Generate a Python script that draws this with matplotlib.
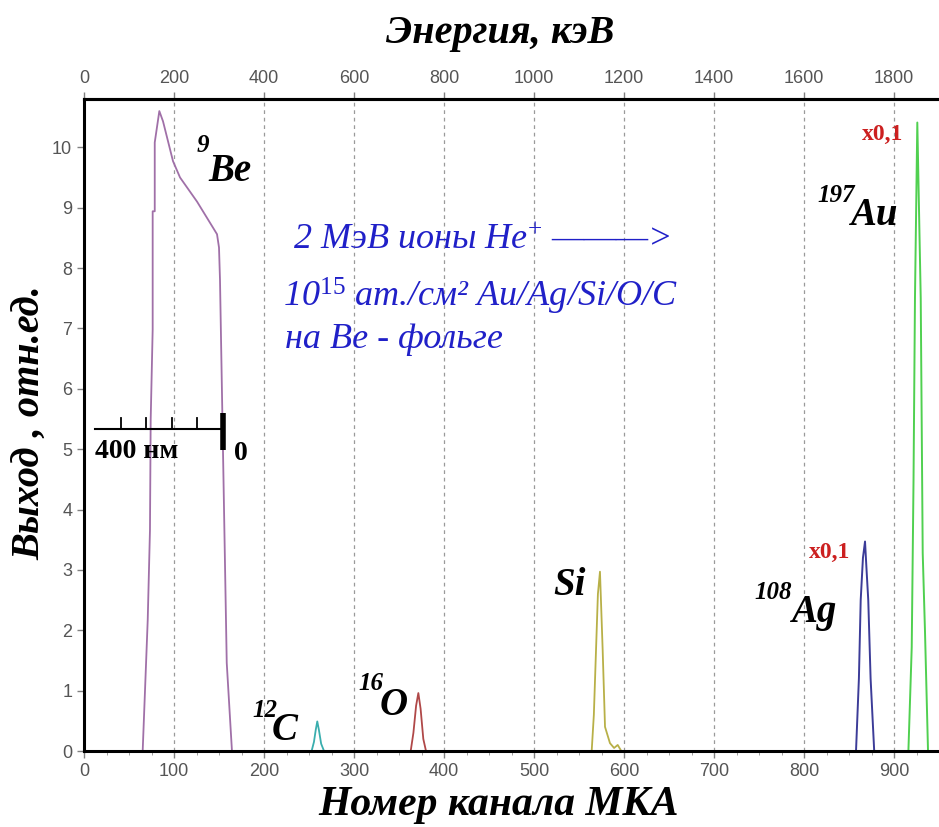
import matplotlib
matplotlib.use("Agg")
import matplotlib.pyplot as plt
from matplotlib.ticker import MultipleLocator

# RBS spectrum, 2 MeV He+ on Au/Ag/Si/O/C over Be foil
plt.rcParams['mathtext.fontset'] = 'custom'
plt.rcParams['mathtext.rm'] = 'Liberation Serif'
plt.rcParams['mathtext.it'] = 'Liberation Serif:italic'
plt.rcParams['mathtext.bf'] = 'Liberation Serif:bold:italic'

# channel / yield for each peak
be_ch = [65.2, 70.8, 73.3, 74.1, 76.3, 76.3, 78.6, 78.6, 83.7, 87.8, 98.9, 106.7,
         125.6, 143.3, 147.8, 150.0, 151.1, 154.4, 158.6, 164.4]
be_y = [0, 2.17, 3.66, 5.49, 6.98, 8.94, 8.94, 10.08, 10.6, 10.43, 9.77, 9.5,
        9.1, 8.67, 8.56, 8.34, 7.81, 5.0, 1.46, 0]
c_ch = [252.9, 255.5, 257.5, 259.2, 261.0, 263.5, 266.7]
c_y = [0, 0.15, 0.35, 0.49, 0.35, 0.12, 0]
o_ch = [363, 366, 369, 371.5, 374, 377, 380]
o_y = [0, 0.3, 0.75, 0.96, 0.7, 0.2, 0]
si_ch = [564.1, 566.5, 568.9, 571.0, 573.3, 576.3, 578.9, 584.4, 589, 593, 597]
si_y = [0, 0.6, 1.67, 2.6, 2.97, 1.67, 0.4, 0.13, 0.05, 0.1, 0]
ag_ch = [857.8, 861, 863, 865.5, 867.8, 869.5, 871.4, 874, 878]
ag_y = [0, 1.2, 2.5, 3.2, 3.47, 3.0, 2.5, 1.2, 0]
au_ch = [916, 919.7, 921.7, 923.3, 925.9, 929.7, 931.9, 934.4, 937.8]
au_y = [0, 1.72, 4.5, 7.5, 10.41, 7.5, 3.28, 2.0, 0]

ch_ticks = list(range(0, 1000, 100))
kev_ticks = list(range(0, 2000, 200))
y_ticks = list(range(0, 11))

fig = plt.figure(figsize=(9.39, 8.27), dpi=100)
ax = fig.add_axes([84/939, 76/827, 855/939, 652/827])
ax.set_xlim(0, 950)
ax.set_ylim(0, 10.8)

for g in ch_ticks[1:]:
    ax.axvline(g, color='#9a9a9a', lw=0.9, ls=(0, (3, 3)), zorder=0)

ax.plot(be_ch, be_y, color='#a070a8', lw=1.3)
ax.plot(c_ch, c_y, color='#3aaeae', lw=1.3)
ax.plot(o_ch, o_y, color='#b04848', lw=1.3)
ax.plot(si_ch, si_y, color='#b8b048', lw=1.3)
ax.plot(ag_ch, ag_y, color='#3c3c98', lw=1.4)
ax.plot(au_ch, au_y, color='#50d050', lw=1.4)

# ticks
ax.set_xticks(ch_ticks)
ax.xaxis.set_minor_locator(MultipleLocator(25))
ax.set_yticks(y_ticks)
ax.tick_params(axis='both', which='major', direction='out', length=5, width=1,
               color='#808080', labelcolor='#555555', labelsize=13)
ax.tick_params(axis='x', which='minor', direction='out', length=3, color='#909090')
for lab in ax.get_xticklabels() + ax.get_yticklabels():
    lab.set_family('Liberation Sans')
for s in ['left', 'bottom', 'top']:
    ax.spines[s].set_linewidth(2.2)
ax.spines['right'].set_visible(False)

top = ax.secondary_xaxis('top', functions=(lambda x: 2 * x, lambda e: e / 2))
top.set_xticks(kev_ticks)
top.tick_params(direction='out', length=5, width=1, color='#808080',
                labelcolor='#555555', labelsize=13)
for lab in top.get_xticklabels():
    lab.set_family('Liberation Sans')
top.spines['top'].set_linewidth(2.2)

serif = 'Liberation Serif'
fig.text(500/939, 1 - 34/827, 'Энергия, кэВ', family=serif, style='italic',
         weight='bold', size=29, ha='center', va='center')
fig.text(499/939, 1 - 805/827, 'Номер канала МКА', family=serif, style='italic',
         weight='bold', size=30, ha='center', va='center')
fig.text(30/939, 1 - 423/827, 'Выход , отн.ед.', family=serif, style='italic',
         weight='bold', size=29, ha='center', va='center', rotation=90)


# peak labels: small mass number + element symbol, placed by their baselines
def iso(sx, sy, sup, mx, my, name):
    ax.text(sx, sy, sup, family=serif, style='italic', weight='bold', size=18,
            ha='left', va='baseline')
    ax.text(mx, my, name, family=serif, style='italic', weight='bold', size=28,
            ha='left', va='baseline')


iso(125.6, 9.93, '9', 137.8, 9.44, 'Be')
iso(186.7, 0.56, '12', 208.9, 0.18, 'C')
iso(304.4, 1.01, '16', 328.9, 0.60, 'O')
ax.text(521.1, 2.59, 'Si', family=serif, style='italic', weight='bold',
        size=28, ha='left', va='baseline')
iso(744.4, 2.52, '108', 785.6, 2.14, 'Ag')
iso(814.4, 9.09, '197', 851.1, 8.72, 'Au')

ax.text(830/0.9 - 84/0.9, 3.29, 'x0,1', family=serif, weight='bold', size=17,
        color='#cc2020', ha='center', va='center')
ax.text(883/0.9 - 84/0.9, 10.22, 'x0,1', family=serif, weight='bold', size=17,
        color='#cc2020', ha='center', va='center')

blue = '#2020c8'
ax.text(232, 8.31, r'2 МэВ ионы He$^{+}$ ———>', family=serif, style='italic',
        size=26, color=blue, ha='left', va='baseline')
ax.text(221, 7.36, r'10$^{\mathit{15}}$ ат./см² Au/Ag/Si/O/C', family=serif,
        style='italic', size=26, color=blue, ha='left', va='baseline')
ax.text(223, 6.68, 'на Be - фольге', family=serif, style='italic', size=26,
        color=blue, ha='left', va='baseline')

# depth scale bar (400 nm)
bar_left, bar_right, bar_y = 12.2, 154.4, 5.34
ax.plot([bar_left, bar_right], [bar_y, bar_y], color='black', lw=1.5)
step = (bar_right - bar_left) / 5
for k in range(1, 5):
    ax.plot([bar_left + k * step] * 2, [bar_y, bar_y + 0.17], color='black', lw=1.3)
ax.plot([bar_right, bar_right], [4.98, 5.6], color='black', lw=4, solid_capstyle='butt')
ax.text(bar_left, 4.96, '400 нм', family=serif, weight='bold', size=20,
        ha='left', va='center')
ax.text(174, 4.92, '0', family=serif, weight='bold', size=20, ha='center', va='center')

fig.savefig('out.png', dpi=100)
